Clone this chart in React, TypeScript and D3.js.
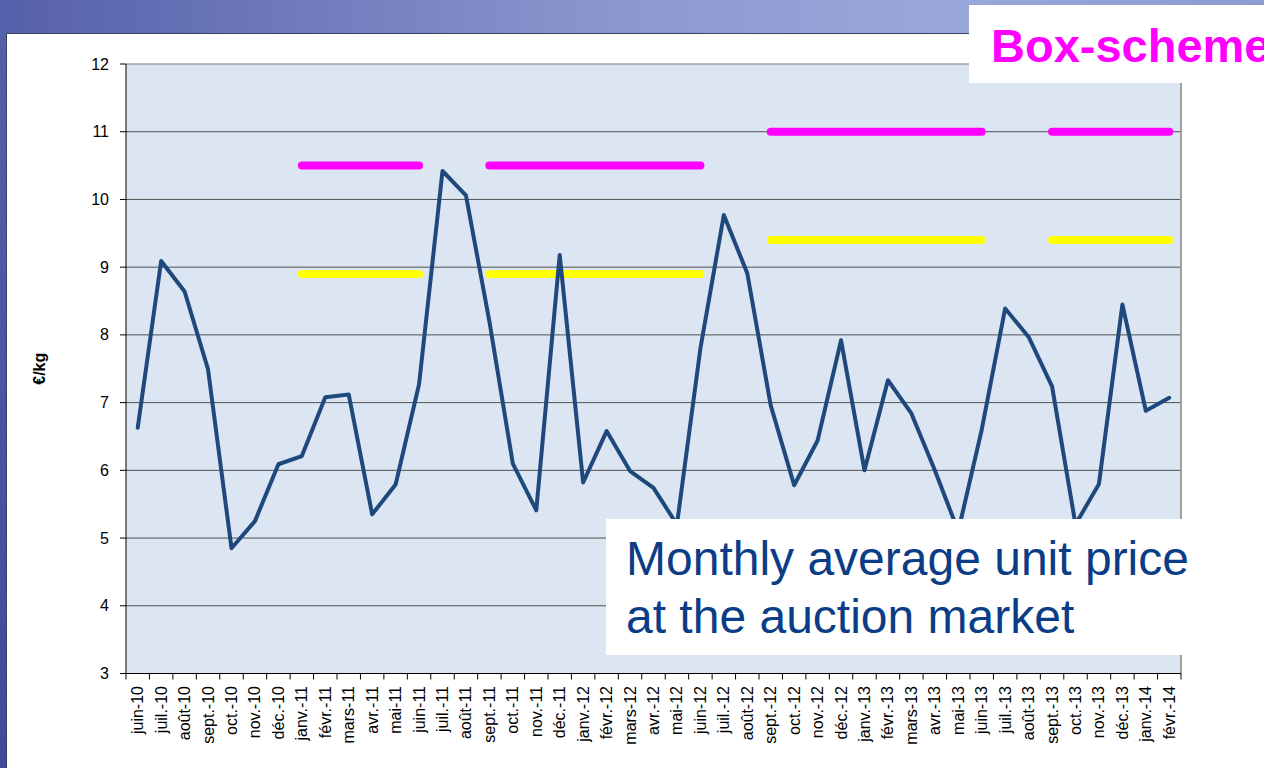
import React from 'react';
import * as d3 from 'd3';

// months on the x axis (French short labels as in the source)
const months = [
  'juin-10', 'juil.-10', 'août-10', 'sept.-10', 'oct.-10', 'nov.-10', 'déc.-10',
  'janv.-11', 'févr.-11', 'mars-11', 'avr.-11', 'mai-11', 'juin-11', 'juil.-11', 'août-11', 'sept.-11', 'oct.-11', 'nov.-11', 'déc.-11',
  'janv.-12', 'févr.-12', 'mars-12', 'avr.-12', 'mai-12', 'juin-12', 'juil.-12', 'août-12', 'sept.-12', 'oct.-12', 'nov.-12', 'déc.-12',
  'janv.-13', 'févr.-13', 'mars-13', 'avr.-13', 'mai-13', 'juin-13', 'juil.-13', 'août-13', 'sept.-13', 'oct.-13', 'nov.-13', 'déc.-13',
  'janv.-14', 'févr.-14',
];

// monthly average unit price at the auction market (€/kg)
const auctionPrice = [
  6.63, 9.09, 8.64, 7.49, 4.85, 5.25, 6.09,
  6.21, 7.08, 7.12, 5.35, 5.79, 7.27, 10.42, 10.06, 8.2, 6.1, 5.41, 9.18,
  5.82, 6.58, 5.99, 5.74, 5.2, 7.8, 9.77, 8.91, 6.96, 5.78, 6.44, 7.92,
  6.0, 7.33, 6.84, 6.0, 5.1, 6.6, 8.39, 7.97, 7.24, 5.2, 5.8, 8.45,
  6.88, 7.07,
];

// box-scheme price levels per season
const seasonStart = ['janv.-11', 'sept.-11', 'sept.-12', 'sept.-13'];
const seasonEnd = ['juin-11', 'juin-12', 'juin-13', 'févr.-14'];
const boxHigh = [10.5, 10.5, 11, 11];
const boxLow = [8.9, 8.9, 9.4, 9.4];

const W = 1264;
const H = 768;
const FONT = '"Liberation Sans", Arial, sans-serif';

const App = () => {
  const left = 126, right = 1181, top = 64, bottom = 673.5;

  const x = d3.scaleBand<string>().domain(months).range([left, right]).padding(0);
  const cx = (m: string) => (x(m) as number) + x.bandwidth() / 2;
  const y = d3.scaleLinear().domain([3, 12]).range([bottom, top]);

  const line = d3.line<number>()
    .x((d, i) => cx(months[i]))
    .y(d => y(d));

  const boundaries = months.map(m => x(m) as number).concat([right]);

  return (
    <div style={{ position: 'fixed', left: 0, top: 0 }}>
      <svg width={W} height={H} style={{ display: 'block' }}>
        <defs>
          <linearGradient id="band" x1="0" y1="0" x2="1" y2="0">
            <stop offset="0" stopColor="#5560aa" />
            <stop offset="0.5" stopColor="#8c99d0" />
            <stop offset="0.75" stopColor="#9aa7da" />
            <stop offset="1" stopColor="#8e9bd2" />
          </linearGradient>
          <linearGradient id="strip" x1="0" y1="0" x2="0" y2="1">
            <stop offset="0" stopColor="#5560aa" />
            <stop offset="1" stopColor="#3f4b98" />
          </linearGradient>
        </defs>

        {/* slide background */}
        <rect x={0} y={0} width={W} height={H} fill="url(#strip)" />
        <rect x={0} y={0} width={W} height={33} fill="url(#band)" />
        <rect x={6} y={33} width={W - 6} height={H - 33} fill="#fff" />
        <line x1={6} x2={W} y1={33.5} y2={33.5} stroke="#3c4060" strokeWidth={1} />
        <line x1={6.5} x2={6.5} y1={33} y2={H} stroke="#3c4060" strokeWidth={1} />

        {/* plot area */}
        <rect x={left} y={top} width={right - left} height={bottom - top} fill="#dce6f2" />

        {y.ticks(9).filter(t => t > 3 && t < 12).map(t => (
          <line key={t} x1={left} x2={right} y1={y(t)} y2={y(t)} stroke="#505050" strokeWidth={1} />
        ))}
        <line x1={left} x2={right} y1={top} y2={top} stroke="#a0a0a0" strokeWidth={1.5} />
        <line x1={right} x2={right} y1={top} y2={bottom} stroke="#a0a0a0" strokeWidth={2} />

        {/* y axis */}
        <line x1={left} x2={left} y1={top} y2={bottom} stroke="#000" strokeWidth={1} />
        {y.ticks(9).map(t => (
          <g key={t}>
            <line x1={left - 6} x2={left} y1={y(t)} y2={y(t)} stroke="#000" strokeWidth={1} />
            <text x={109} y={y(t)} textAnchor="end" dominantBaseline="central"
              fontFamily={FONT} fontSize={16} fill="#000">{t}</text>
          </g>
        ))}
        <text transform={`translate(39, ${(top + bottom) / 2}) rotate(-90)`} textAnchor="middle"
          dominantBaseline="central" fontFamily={FONT} fontSize={16} fontWeight="bold">€/kg</text>

        {/* x axis */}
        <line x1={left} x2={right} y1={bottom} y2={bottom} stroke="#000" strokeWidth={1} />
        {boundaries.map((b, i) => (
          <line key={i} x1={b} x2={b} y1={bottom} y2={bottom + 6} stroke="#000" strokeWidth={1} />
        ))}
        {months.map(m => (
          <text key={m} transform={`translate(${cx(m)}, 686) rotate(-90)`} textAnchor="end"
            dominantBaseline="central" fontFamily={FONT} fontSize={16} fill="#000">{m}</text>
        ))}

        {/* box-scheme levels */}
        {seasonStart.map((s, i) => (
          <g key={s}>
            <line x1={cx(s)} x2={cx(seasonEnd[i])} y1={y(boxHigh[i])} y2={y(boxHigh[i])}
              stroke="#ff00ff" strokeWidth={8} strokeLinecap="round" />
            <line x1={cx(s)} x2={cx(seasonEnd[i])} y1={y(boxLow[i])} y2={y(boxLow[i])}
              stroke="#ffff00" strokeWidth={8} strokeLinecap="round" />
          </g>
        ))}

        {/* auction price */}
        <path d={line(auctionPrice) as string} fill="none" stroke="#1f497d" strokeWidth={4}
          strokeLinejoin="round" strokeLinecap="round" />

        {/* annotation boxes */}
        <rect x={606} y={519} width={580} height={136} fill="#fff" />
        <text x={626} y={575} fontFamily={FONT} fontSize={48} fill="#0b3d86">Monthly average unit price</text>
        <text x={626} y={633} fontFamily={FONT} fontSize={48} fill="#0b3d86">at the auction market</text>

        <rect x={969} y={5} width={W - 969} height={78} fill="#fff" />
        <text x={991} y={62} fontFamily={FONT} fontSize={47} fontWeight="bold" fill="#ff00ff">Box-scheme</text>
      </svg>
    </div>
  );
};

export default App;
